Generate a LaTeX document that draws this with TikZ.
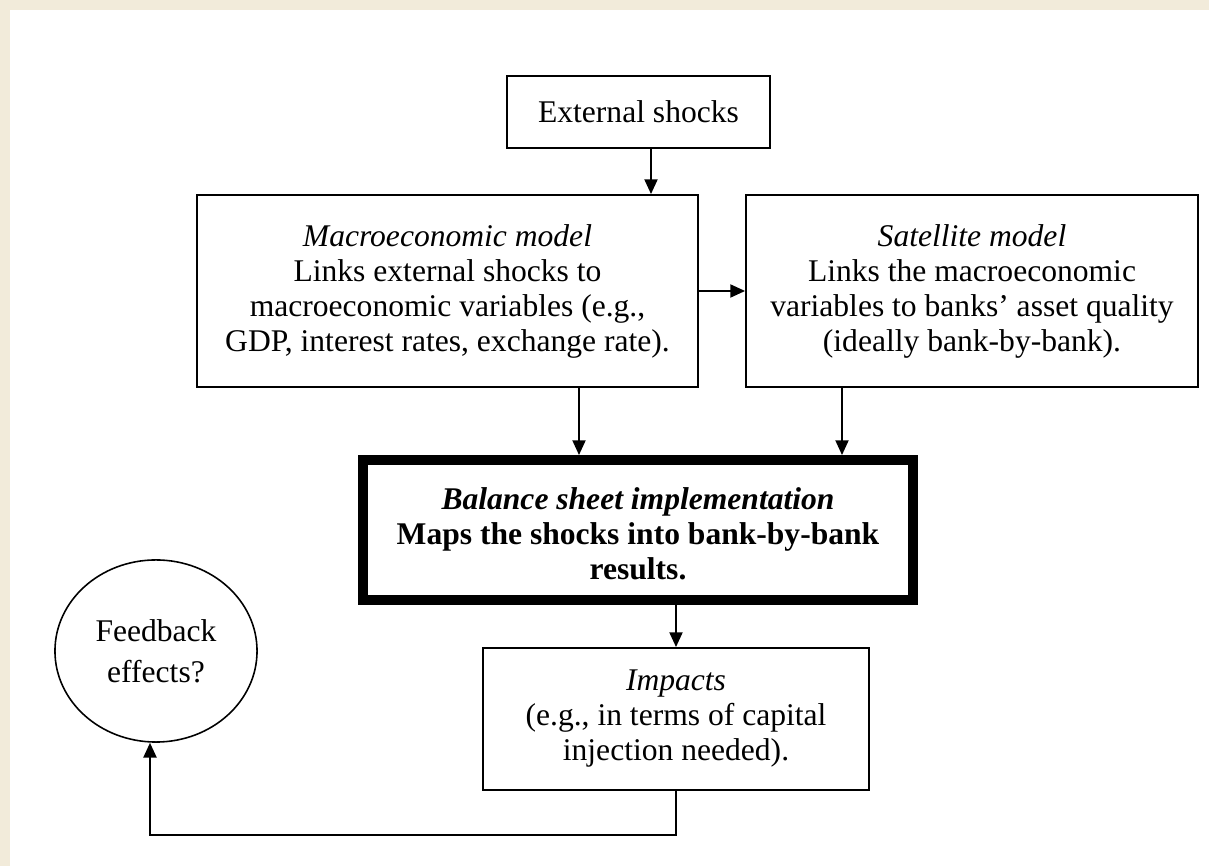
\documentclass[tikz,border=0pt]{standalone}
\usepackage{fontspec}
\setmainfont{Liberation Serif}
\usetikzlibrary{shapes.geometric,arrows.meta}
\definecolor{beige}{RGB}{242,235,218}
\begin{document}
\begin{tikzpicture}[x=0.38pt,y=-0.38pt,
  txt/.style={font=\fontsize{12}{13.3}\selectfont, align=center, inner sep=0pt},
  box/.style={txt, draw, line width=0.7pt, rectangle},
  thickbox/.style={txt, draw, line width=3.8pt, rectangle},
  oval/.style={txt, draw, line width=0.6pt, ellipse},
  arr/.style={line width=0.6pt, -{Triangle[length=5.6pt,width=5pt]}}
]
\useasboundingbox (0,0) rectangle (1209,866);
\fill[beige] (0,0) rectangle (1209,866);
\fill[white] (10,10) rectangle (1209,866);

\node[box, minimum width=99.9pt, minimum height=27.4pt] (ext) at (638.5,112) {External shocks};
\node[box, minimum width=190.4pt, minimum height=73pt] (macro) at (447.5,291)
  {\textit{Macroeconomic model}\\Links external shocks to\\macroeconomic variables (e.g.,\\GDP, interest rates, exchange rate).};
\node[box, minimum width=171.8pt, minimum height=73pt] (sat) at (972,291)
  {\textit{Satellite model}\\Links the macroeconomic\\variables to banks’ asset quality\\(ideally bank-by-bank).};
\node[thickbox, minimum width=209pt, minimum height=53.2pt] (bal) at (638,530) {};
\node[txt] (baltext) at (bal.center) [yshift=-1.5pt]
  {\textbf{\textit{Balance sheet implementation}}\\\textbf{Maps the shocks into bank-by-bank}\\\textbf{results.}};
\node[box, minimum width=146.7pt, minimum height=54pt] (imp) at (676,719)
  {\textit{Impacts}\\(e.g., in terms of capital\\injection needed).};
\node[oval, minimum width=76.8pt, minimum height=69.2pt, font=\fontsize{12}{15.5}\selectfont] (fb) at (156,651) {Feedback\\effects?};

\coordinate (cx1) at (651,0);
\coordinate (cx2) at (579,0);
\coordinate (cx3) at (842,0);
\coordinate (cx4) at (150,0);
\coordinate (cy1) at (0,835);

\draw[arr] (ext.south -| cx1) -- (macro.north -| cx1);
\draw[arr] (macro.east) -- (sat.west);
\draw[arr] (macro.south -| cx2) -- (bal.north -| cx2);
\draw[arr] (sat.south -| cx3) -- (bal.north -| cx3);
\draw[arr] (bal.south -| imp.north) -- (imp.north);
\draw[arr] (imp.south) -- (imp.south |- cy1) -- (cx4 |- cy1) -- (fb.south -| cx4);
\end{tikzpicture}
\end{document}
